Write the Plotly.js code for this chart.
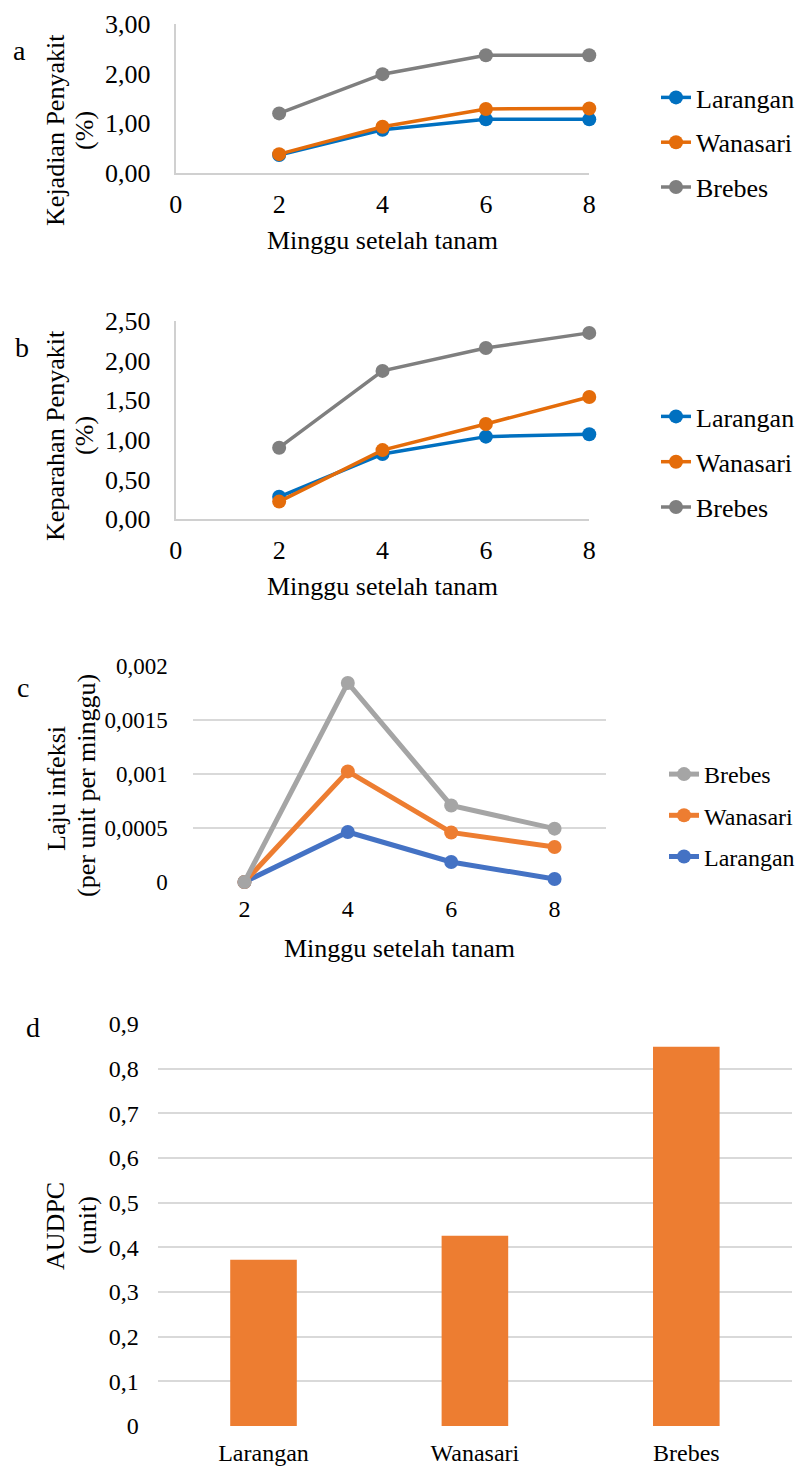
<!DOCTYPE html>
<html>
<head>
<meta charset="utf-8">
<script src="https://cdn.plot.ly/plotly-3.0.1.min.js"></script>
<style>
  html, body { margin: 0; padding: 0; background: #fff; }
  #chart { width: 800px; height: 1466px; }
</style>
</head>
<body>
<div id="chart"></div>
<script>
// Weeks after planting
const weeks = [2, 4, 6, 8];

// (a) Disease incidence (%)
const incidenceLarangan = [0.36, 0.87, 1.08, 1.08];
const incidenceWanasari = [0.38, 0.93, 1.29, 1.30];
const incidenceBrebes   = [1.20, 1.99, 2.37, 2.37];

// (b) Disease severity (%)
const severityLarangan = [0.28, 0.82, 1.04, 1.07];
const severityWanasari = [0.22, 0.87, 1.20, 1.54];
const severityBrebes   = [0.90, 1.87, 2.16, 2.35];

// (c) Infection rate (per unit per week)
const rateLarangan = [0, 0.000463, 0.000185, 0.000028];
const rateWanasari = [0, 0.001024, 0.000459, 0.000324];
const rateBrebes   = [0, 0.001843, 0.000709, 0.000494];
const rateTickVals = [0, 0.0005, 0.001, 0.0015, 0.002];
const rateTickText = ['0', '0,0005', '0,001', '0,0015', '0,002'];

// (d) AUDPC (unit)
const locations = ['Larangan', 'Wanasari', 'Brebes'];
const audpc = [0.372, 0.426, 0.849];

const W = 800, H = 1466;
const px = v => v / W;
const py = v => 1 - v / H;

const FONT = 'Liberation Serif';
const f = (size) => ({ family: FONT, size: size, color: '#000' });

// Colours
const C_BLUE_A = '#0070C0', C_ORANGE_A = '#E46C0A', C_GRAY_A = '#7F7F7F';
const C_BLUE_C = '#4472C4', C_ORANGE_C = '#ED7D31', C_GRAY_C = '#A5A5A5';
const AXIS_GRAY = '#D0D0D0', GRID_GRAY = '#D9D9D9';

function lineTrace(x, y, name, color, xa, ya, legend, width, rank) {
  return {
    type: 'scatter', mode: 'lines+markers', x: x, y: y, name: name,
    xaxis: xa, yaxis: ya, legend: legend, legendgroup: legend + name, legendrank: rank,
    line: { color: color, width: width },
    marker: { color: color, size: 14 },
    cliponaxis: false, hoverinfo: 'x+y+name'
  };
}

const traces = [
  lineTrace(weeks, incidenceLarangan, 'Larangan', C_BLUE_A, 'x', 'y', 'legend', 3.5, 1),
  lineTrace(weeks, incidenceWanasari, 'Wanasari', C_ORANGE_A, 'x', 'y', 'legend', 3.5, 2),
  lineTrace(weeks, incidenceBrebes, 'Brebes', C_GRAY_A, 'x', 'y', 'legend', 3.5, 3),

  lineTrace(weeks, severityLarangan, 'Larangan', C_BLUE_A, 'x2', 'y2', 'legend2', 3.5, 1),
  lineTrace(weeks, severityWanasari, 'Wanasari', C_ORANGE_A, 'x2', 'y2', 'legend2', 3.5, 2),
  lineTrace(weeks, severityBrebes, 'Brebes', C_GRAY_A, 'x2', 'y2', 'legend2', 3.5, 3),

  lineTrace(weeks, rateLarangan, 'Larangan', C_BLUE_C, 'x3', 'y3', 'legend3', 5, 3),
  lineTrace(weeks, rateWanasari, 'Wanasari', C_ORANGE_C, 'x3', 'y3', 'legend3', 5, 2),
  lineTrace(weeks, rateBrebes, 'Brebes', C_GRAY_C, 'x3', 'y3', 'legend3', 5, 1),

  {
    type: 'bar', x: locations, y: audpc, xaxis: 'x4', yaxis: 'y4',
    marker: { color: C_ORANGE_C }, showlegend: false, hoverinfo: 'x+y'
  }
];

function lineAxisX(dom, anchor) {
  return {
    domain: [px(dom[0]), px(dom[1])], anchor: anchor,
    range: [0, 8], tick0: 0, dtick: 2, ticks: '',
    showgrid: false, zeroline: false, showline: true,
    linecolor: AXIS_GRAY, linewidth: 2,
    tickfont: f(26), ticklabelstandoff: 7,
    title: { text: 'Minggu setelah tanam', font: f(26), standoff: 13 },
    fixedrange: true
  };
}
function lineAxisY(dom, anchor, maxv, step) {
  return {
    domain: [py(dom[1]), py(dom[0])], anchor: anchor,
    range: [0, maxv], tick0: 0, dtick: step, tickformat: '.2f', ticks: '',
    showgrid: false, zeroline: false, showline: true,
    linecolor: AXIS_GRAY, linewidth: 2,
    tickfont: f(26), ticklabelstandoff: 18,
    fixedrange: true
  };
}

function legendBox(xLeft, yTop, size, gap) {
  return {
    x: px(xLeft), y: py(yTop), xanchor: 'left', yanchor: 'top',
    font: f(size), bgcolor: 'rgba(0,0,0,0)',
    tracegroupgap: gap, itemwidth: 30, traceorder: 'grouped'
  };
}

function note(text, x, y, size, angle) {
  return {
    text: text, xref: 'paper', yref: 'paper', x: px(x), y: py(y),
    xanchor: 'center', yanchor: 'middle', showarrow: false,
    textangle: angle || 0, font: f(size)
  };
}

const layout = {
  width: W, height: H,
  margin: { l: 0, r: 0, t: 0, b: 0 },
  paper_bgcolor: '#fff', plot_bgcolor: '#fff',
  separators: ', ',
  showlegend: true,
  hovermode: 'closest',

  xaxis: lineAxisX([176, 590], 'y'),
  yaxis: lineAxisY([24, 173], 'x', 3, 1),

  xaxis2: lineAxisX([176, 590], 'y2'),
  yaxis2: lineAxisY([321, 519], 'x2', 2.5, 0.5),

  xaxis3: {
    domain: [px(193), px(607)], anchor: 'y3',
    range: [1, 9], tickvals: weeks, ticks: '',
    showgrid: false, zeroline: false, showline: false,
    tickfont: f(24), ticklabelstandoff: 10,
    title: { text: 'Minggu setelah tanam', font: f(26), standoff: 17 },
    fixedrange: true
  },
  yaxis3: {
    domain: [py(882), py(666)], anchor: 'x3',
    range: [0, 0.002], tickvals: rateTickVals, ticktext: rateTickText, ticks: '',
    showgrid: true, gridcolor: GRID_GRAY, gridwidth: 2,
    zeroline: false, showline: false,
    tickfont: f(23), ticklabelstandoff: 24,
    fixedrange: true
  },

  xaxis4: {
    domain: [px(158), px(793)], anchor: 'y4',
    type: 'category', ticks: '', showgrid: false, zeroline: false, showline: false,
    tickfont: f(24), ticklabelstandoff: 10,
    fixedrange: true
  },
  yaxis4: {
    domain: [py(1426), py(1024)], anchor: 'x4',
    range: [0, 0.9], tick0: 0, dtick: 0.1, ticks: '',
    showgrid: true, gridcolor: GRID_GRAY, gridwidth: 2,
    zeroline: false, showline: false,
    tickfont: f(24), ticklabelstandoff: 18,
    fixedrange: true
  },
  bargap: 0.685,

  legend: legendBox(656, 74, 26, 8),
  legend2: legendBox(656, 393, 26, 8.5),
  legend3: legendBox(665, 752, 24, 7),

  annotations: [
    note('a', 20, 50, 28),
    note('b', 22, 348, 28),
    note('c', 23, 688, 28),
    note('d', 33, 1027, 28),
    note('Kejadian Penyakit', 56, 130, 26, -90),
    note('(%)', 85, 130, 26, -90),
    note('Keparahan Penyakit', 56, 435, 26, -90),
    note('(%)', 85, 435, 26, -90),
    note('Laju infeksi', 56, 788, 26, -90),
    note('(per unit per minggu)', 87, 785, 26, -90),
    note('AUDPC', 55, 1226, 26, -90),
    note('(unit)', 87, 1225, 26, -90)
  ]
};

function draw() {
  Plotly.newPlot('chart', traces, layout, { displayModeBar: false, responsive: false });
}
if (document.fonts && document.fonts.load) {
  document.fonts.load('26px "Liberation Serif"').then(draw, draw);
} else {
  draw();
}
</script>
</body>
</html>
